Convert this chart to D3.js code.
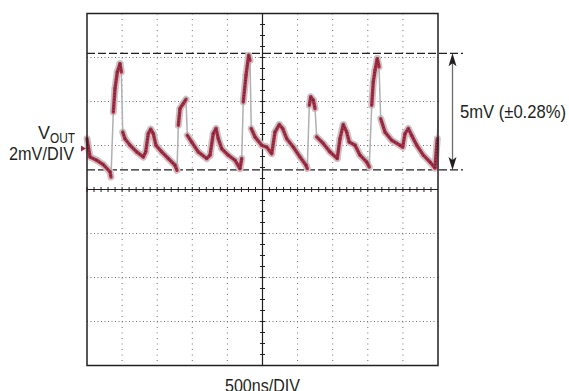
<!DOCTYPE html>
<html>
<head>
<meta charset="utf-8">
<script src="https://cdn.jsdelivr.net/npm/d3@7/dist/d3.min.js"></script>
<style>
  body { margin: 0; background: #fff; }
  svg { display: block; }
  text { font-family: 'Liberation Sans', Arial, sans-serif; fill: #231f20; }
</style>
</head>
<body>
<script>
// scope trace: time in ns, VOUT in mV (0 = channel marker)
var timeNs = [0, 43, 138, 232, 328, 342, 375, 399, 432, 470, 489, 509, 541, 613, 708, 802,
  836, 873, 907, 944, 983, 1064, 1158, 1254, 1282, 1301, 1325, 1372, 1410, 1429, 1491, 1585,
  1705, 1752, 1799, 1838, 1870, 1919, 2013, 2108, 2179, 2204, 2226, 2265, 2303, 2322, 2340,
  2393, 2489, 2560, 2631, 2678, 2739, 2788, 2845, 2939, 3034, 3120, 3138, 3167, 3187, 3224,
  3248, 3272, 3366, 3461, 3565, 3604, 3651, 3699, 3736, 3818, 3889, 3984, 4021, 4056, 4078,
  4103, 4135, 4160, 4184, 4245, 4340, 4459, 4497, 4530, 4577, 4625, 4697, 4791, 4886, 4957,
  4990, 5000];
var voutMv = [0.45, -0.38, -0.53, -0.73, -1.06, -1.29, 1.66, 2.73, 3.48, 3.86, 3.48, 0.75, 0.45,
  0.15, -0.15, -0.38, -0.15, 0.68, 0.88, 0.68, 0.15, -0.15, -0.45, -0.76, -0.99, 1.06, 1.82,
  2.05, 2.24, 0.60, 0.30, -0.15, -0.45, -0.30, 0.68, 0.91, 0.45, 0.00, -0.30, -0.53, -0.91,
  -0.45, 2.12, 3.33, 4.24, 4.01, 0.91, 0.53, 0.15, 0.07, -0.23, 0.75, 1.09, 0.91, 0.45, 0.07,
  -0.38, -0.76, -0.91, 1.97, 2.35, 2.20, 1.82, 0.53, 0.23, -0.15, -0.45, 0.45, 1.09, 0.75,
  0.30, 0.15, -0.30, -0.61, -0.84, 1.97, 3.03, 3.56, 4.09, 3.71, 1.36, 0.75, 0.38, 0.15,
  0.07, 0.68, 0.91, 0.60, 0.15, -0.30, -0.61, -0.88, 0.45, 1.29];

// dashed cursor levels (mV) and screen settings
var cursorMv = [4.33, -0.97];
var nsPerDiv = 500, mvPerDiv = 2, xDivs = 10, yDivs = 8;
var markerOffsetMv = 1.86; // channel marker sits this far above centre line

var labels = {
  vout: "V", voutSub: "OUT", scale: "2mV/DIV",
  time: "500ns/DIV", span: "5mV (\u00b10.28%)"
};

var margin = {top: 13.5, left: 87},
    width = 351,
    height = 352;

var data = timeNs.map(function(t, i) { return {t: t, v: voutMv[i]}; });

var xScale = d3.scaleLinear().domain([0, nsPerDiv * xDivs]).range([0, width]);
var yScale = d3.scaleLinear()
    .domain([-yDivs / 2 * mvPerDiv - markerOffsetMv, yDivs / 2 * mvPerDiv - markerOffsetMv])
    .range([height, 0]);
var yCenter = -markerOffsetMv;
var xCenter = nsPerDiv * xDivs / 2;

var svg = d3.select("body").append("svg")
    .attr("width", 569)
    .attr("height", 391);

var g = svg.append("g")
    .attr("transform", "translate(" + margin.left + "," + margin.top + ")");

// dotted graticule
var xGrid = d3.range(1, xDivs).map(function(d) { return d * nsPerDiv; })
    .filter(function(d) { return d !== xCenter; });
var yGrid = d3.range(1, yDivs).map(function(d) { return yScale.domain()[0] + d * mvPerDiv; })
    .filter(function(d) { return Math.abs(d - yCenter) > 0.01; });

g.selectAll("line.vgrid").data(xGrid).enter().append("line")
    .attr("class", "vgrid")
    .attr("x1", function(d) { return xScale(d); })
    .attr("x2", function(d) { return xScale(d); })
    .attr("y1", 0).attr("y2", height)
    .style("stroke", "#6d6d6d")
    .style("stroke-width", 1)
    .style("stroke-dasharray", "1,4.5");

g.selectAll("line.hgrid").data(yGrid).enter().append("line")
    .attr("class", "hgrid")
    .attr("x1", 0).attr("x2", width)
    .attr("y1", function(d) { return yScale(d); })
    .attr("y2", function(d) { return yScale(d); })
    .style("stroke", "#6d6d6d")
    .style("stroke-width", 1)
    .style("stroke-dasharray", "1,2.5");

// centre axes with minor ticks
g.append("line")
    .attr("x1", 0).attr("x2", width)
    .attr("y1", yScale(yCenter)).attr("y2", yScale(yCenter))
    .style("stroke", "#231f20").style("stroke-width", 1.2);
g.append("line")
    .attr("x1", xScale(xCenter)).attr("x2", xScale(xCenter))
    .attr("y1", 0).attr("y2", height)
    .style("stroke", "#231f20").style("stroke-width", 1.2);

g.selectAll("line.xtick").data(d3.range(0, nsPerDiv * xDivs, nsPerDiv / 5)).enter().append("line")
    .attr("class", "xtick")
    .attr("x1", function(d) { return xScale(d); })
    .attr("x2", function(d) { return xScale(d); })
    .attr("y1", yScale(yCenter) - 2.5).attr("y2", yScale(yCenter) + 2.5)
    .style("stroke", "#231f20").style("stroke-width", 1);

g.selectAll("line.ytick").data(d3.range(0, yDivs * 4).map(function(d) {
        return yScale.domain()[0] + d * mvPerDiv / 4; }))
    .enter().append("line")
    .attr("class", "ytick")
    .attr("x1", xScale(xCenter) - 2.5).attr("x2", xScale(xCenter) + 2.5)
    .attr("y1", function(d) { return yScale(d); })
    .attr("y2", function(d) { return yScale(d); })
    .style("stroke", "#231f20").style("stroke-width", 1);

// dashed cursors, running out past the frame
g.selectAll("line.cursor").data(cursorMv).enter().append("line")
    .attr("class", "cursor")
    .attr("x1", 0).attr("x2", width + 25)
    .attr("y1", function(d) { return yScale(d); })
    .attr("y2", function(d) { return yScale(d); })
    .style("stroke", "#231f20")
    .style("stroke-width", 1.2)
    .style("stroke-dasharray", "8,3");

// trace: fast edges are faint grey, slow parts red with grey persistence
var segs = d3.pairs(data).map(function(p) {
    var dx = Math.abs(xScale(p[1].t) - xScale(p[0].t));
    var dy = Math.abs(yScale(p[1].v) - yScale(p[0].v));
    return {a: p[0], b: p[1], fast: dy > 16 * Math.max(dx, 0.5)};
});
var slow = segs.filter(function(s) { return !s.fast; });

function drawSegs(cls, list, color, w, dash) {
  g.selectAll("line." + cls).data(list).enter().append("line")
      .attr("class", cls)
      .attr("x1", function(s) { return xScale(s.a.t); })
      .attr("y1", function(s) { return yScale(s.a.v); })
      .attr("x2", function(s) { return xScale(s.b.t); })
      .attr("y2", function(s) { return yScale(s.b.v); })
      .style("stroke", color)
      .style("stroke-width", w)
      .style("stroke-linecap", dash ? "butt" : "round")
      .style("stroke-dasharray", dash || null);
}

drawSegs("halo", slow, "#cdc3c5", 7);
drawSegs("edge", segs.filter(function(s) { return s.fast; }), "#b0b0b0", 1.5);
drawSegs("red", slow, "#ad2d47", 3.4);
drawSegs("noise", slow, "#3d2a2e", 1.2, "1,2");

// frame
g.append("rect")
    .attr("x", 0).attr("y", 0)
    .attr("width", width).attr("height", height)
    .style("fill", "none")
    .style("stroke", "#231f20")
    .style("stroke-width", 1.5);

// span arrow
var arrowX = width + 14.5;
var yTop = yScale(cursorMv[0]), yBot = yScale(cursorMv[1]);
g.append("line")
    .attr("x1", arrowX).attr("x2", arrowX)
    .attr("y1", yTop + 8).attr("y2", yBot - 8)
    .style("stroke", "#6d6d6d").style("stroke-width", 1.3);
g.append("path")
    .attr("d", "M" + arrowX + "," + yTop + " l-4,13 l4,-3 l4,3 z")
    .style("fill", "#231f20");
g.append("path")
    .attr("d", "M" + arrowX + "," + yBot + " l-4,-13 l4,3 l4,-3 z")
    .style("fill", "#231f20");

// labels, squeezed to the condensed face of the original
svg.append("text")
    .attr("x", 460)
    .attr("y", margin.top + (yTop + yBot) / 2 + 6.5)
    .attr("textLength", 106)
    .attr("lengthAdjust", "spacingAndGlyphs")
    .style("font-size", "19px")
    .text(labels.span);

// channel marker
var markerY = yScale(0);
g.append("path")
    .attr("d", "M-6," + (markerY - 3) + " L-1," + markerY + " L-6," + (markerY + 3) + " z")
    .style("fill", "#a3243b");

svg.append("text")
    .attr("x", 38)
    .attr("y", 139)
    .attr("textLength", 12)
    .attr("lengthAdjust", "spacingAndGlyphs")
    .style("font-size", "18px")
    .text(labels.vout);
svg.append("text")
    .attr("x", 50)
    .attr("y", 142.5)
    .attr("textLength", 25)
    .attr("lengthAdjust", "spacingAndGlyphs")
    .style("font-size", "14px")
    .text(labels.voutSub);

svg.append("text")
    .attr("x", 9)
    .attr("y", 160)
    .attr("textLength", 65)
    .attr("lengthAdjust", "spacingAndGlyphs")
    .style("font-size", "19px")
    .text(labels.scale);

svg.append("text")
    .attr("x", 225)
    .attr("y", 392)
    .attr("textLength", 75)
    .attr("lengthAdjust", "spacingAndGlyphs")
    .style("font-size", "19px")
    .text(labels.time);
</script>
</body>
</html>
